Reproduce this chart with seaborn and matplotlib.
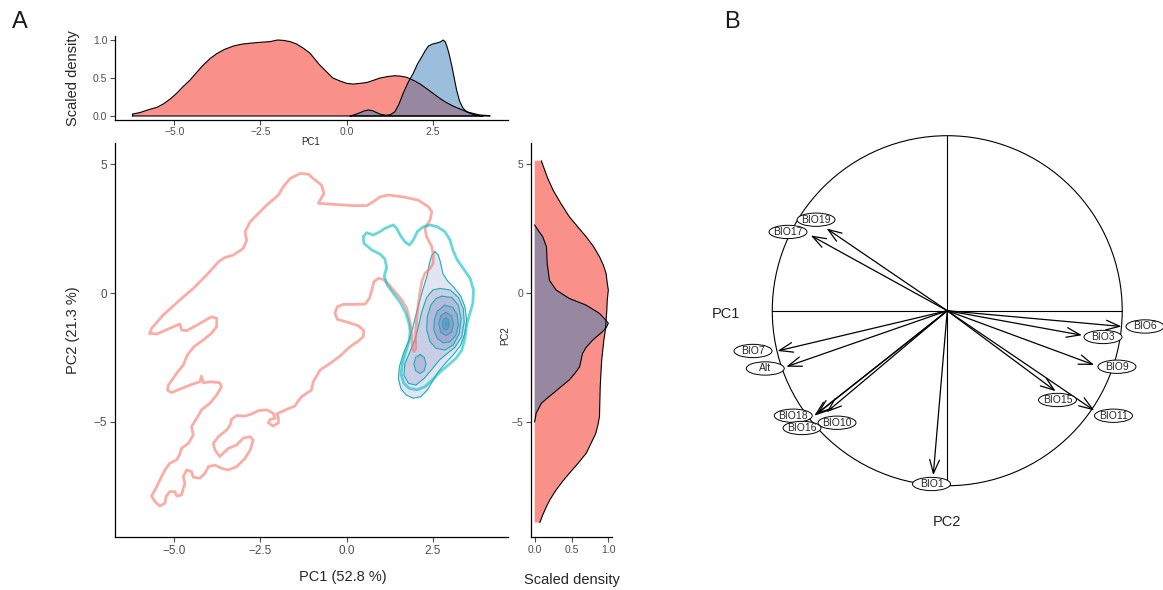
import matplotlib
matplotlib.use("Agg")
import matplotlib.pyplot as plt
import matplotlib.patches as mpatches
from matplotlib.colors import to_rgba
import seaborn as sns

# ---- top margin: scaled density along PC1
pc1_red_x = [-6.21, -6.0, -5.71, -5.5, -5.32, -5.1, -4.93, -4.75, -4.55, -4.35,
             -4.16, -3.95, -3.77, -3.55, -3.29, -3.05, -2.81, -2.5, -2.23, -2.0,
             -1.84, -1.65, -1.45, -1.25, -1.06, -0.8, -0.58, -0.4, -0.19, 0.0,
             0.19, 0.4, 0.58, 0.78, 0.97, 1.2, 1.40, 1.55, 1.74, 1.98,
             2.15, 2.32, 2.5, 2.71, 2.9, 3.09, 3.3, 3.48, 3.7, 3.87, 4.16]
pc1_red_d = [0.026, 0.045, 0.088, 0.115, 0.158, 0.23, 0.30, 0.385, 0.47, 0.575,
             0.67, 0.76, 0.82, 0.875, 0.92, 0.945, 0.957, 0.97, 0.978, 1.0,
             0.995, 0.98, 0.947, 0.89, 0.825, 0.68, 0.58, 0.50, 0.46, 0.43,
             0.42, 0.43, 0.44, 0.47, 0.50, 0.52, 0.53, 0.525, 0.51, 0.46,
             0.415, 0.36, 0.30, 0.23, 0.175, 0.13, 0.09, 0.057, 0.03, 0.013, 0.004]
pc1_blue_x = [0.1, 0.25, 0.39, 0.5, 0.63, 0.75, 0.87, 1.0, 1.16, 1.28,
              1.40, 1.52, 1.64, 1.78, 1.93, 2.05, 2.18, 2.28, 2.37, 2.48,
              2.61, 2.72, 2.80, 2.86, 2.92, 2.98, 3.05, 3.12, 3.19, 3.28,
              3.38, 3.5, 3.63, 3.8, 3.96]
pc1_blue_d = [0.0, 0.02, 0.044, 0.066, 0.079, 0.07, 0.044, 0.02, 0.009, 0.02,
              0.057, 0.16, 0.30, 0.44, 0.56, 0.68, 0.78, 0.86, 0.92, 0.945,
              0.96, 0.975, 1.0, 0.975, 0.90, 0.80, 0.66, 0.50, 0.34, 0.19,
              0.10, 0.05, 0.026, 0.008, 0.0]

# ---- right margin: scaled density along PC2
pc2_red_y = [5.13, 4.5, 3.99, 3.5, 2.96, 2.55, 2.18, 1.8, 1.41, 1.1,
             0.76, 0.4, 0.12, -0.3, -0.66, -1.05, -1.43, -1.82, -2.2, -2.6,
             -3.1, -3.63, -4.2, -4.79, -5.1, -5.44, -5.8, -6.21, -6.6, -6.99,
             -7.3, -7.64, -8.0, -8.28, -8.6, -8.9]
pc2_red_d = [0.09, 0.17, 0.25, 0.35, 0.47, 0.59, 0.70, 0.80, 0.88, 0.93,
             0.97, 0.985, 1.0, 0.985, 0.98, 0.97, 0.96, 0.94, 0.925, 0.91,
             0.90, 0.89, 0.885, 0.88, 0.86, 0.83, 0.77, 0.70, 0.59, 0.47,
             0.38, 0.29, 0.21, 0.16, 0.11, 0.07]
pc2_blue_y = [2.64, 2.44, 2.18, 1.79, 1.15, 0.5, 0.12, -0.21, -0.47, -0.79,
              -1.0, -1.17, -1.35, -1.5, -1.82, -2.1, -2.34, -2.6, -2.86, -3.1,
              -3.37, -3.65, -3.89, -4.1, -4.28, -4.66, -5.0]
pc2_blue_d = [0.0, 0.045, 0.11, 0.16, 0.17, 0.20, 0.29, 0.47, 0.70, 0.88,
              0.95, 1.0, 0.97, 0.92, 0.79, 0.70, 0.65, 0.63, 0.61, 0.55,
              0.47, 0.35, 0.25, 0.16, 0.09, 0.02, 0.0]

# ---- main panel: outer density contour of the red group
red_x = [-5.71, -5.66, -5.32, -4.84, -4.45, -4.06, -3.72, -3.53, -3.29, -3.00,
         -2.90, -2.95, -2.80, -2.61, -2.32, -1.98, -1.84, -1.64, -1.35, -1.11,
         -0.97, -0.73, -0.66, -0.82, -0.39, 0.19, 0.58, 0.77, 0.97, 1.21,
         1.64, 2.08, 2.37, 2.47, 2.42, 2.27, 2.32, 2.47, 2.51, 2.51,
         2.42, 2.27, 2.18, 2.13, 2.08, 2.03, 2.00, 2.01, 1.96, 1.91,
         1.89, 1.84, 1.74, 1.60, 1.40, 1.21, 1.06, 0.92, 0.79, 0.73,
         0.66, 0.53, 0.19, -0.10, -0.27, -0.34, -0.27, 0.05, 0.34, 0.50,
         0.48, 0.34, 0.10, -0.19, -0.48, -0.77, -0.97, -1.02, -1.31, -1.40,
         -1.50, -1.74, -2.03, -1.98, -1.98, -2.13, -2.27, -2.22, -2.08, -2.13,
         -2.32, -2.56, -2.76, -2.95, -3.19, -3.34, -3.38, -3.48, -3.72, -3.87,
         -3.82, -3.68, -3.58, -3.43, -3.19, -3.00, -2.80, -2.71, -2.80, -2.95,
         -3.19, -3.43, -3.63, -3.82, -4.01, -4.11, -4.26, -4.45, -4.50, -4.64,
         -4.74, -4.69, -4.74, -4.79, -4.93, -4.98, -5.13, -5.24, -5.27, -5.42,
         -5.56, -5.66, -5.51, -5.37, -5.27, -5.13, -4.93, -4.85, -4.79, -4.59,
         -4.45, -4.50, -4.35, -4.21, -3.97, -3.77, -3.63, -3.68, -3.92, -4.16,
         -4.21, -4.26, -4.55, -4.84, -5.08, -5.20, -5.17, -4.93, -4.74, -4.62,
         -4.43, -4.16, -3.92, -3.77, -3.77, -3.92, -4.26, -4.64, -4.79, -4.84,
         -5.13, -5.51]
red_y = [-1.56, -1.37, -0.85, -0.27, 0.18, 0.70, 1.21, 1.38, 1.47, 1.73,
         2.05, 2.38, 2.76, 3.02, 3.41, 3.80, 4.12, 4.44, 4.64, 4.61,
         4.44, 4.19, 3.86, 3.48, 3.44, 3.39, 3.39, 3.54, 3.73, 3.80,
         3.73, 3.60, 3.35, 3.15, 2.83, 2.51, 2.18, 1.80, 1.47, 1.15,
         0.96, 0.76, 0.44, 0.05, -0.40, -1.05, -1.69, -2.14, -2.27, -2.14,
         -1.69, -1.11, -0.59, -0.27, 0.05, 0.35, 0.53, 0.57, 0.44, 0.12,
         -0.21, -0.43, -0.44, -0.44, -0.53, -0.79, -1.02, -1.14, -1.27, -1.46,
         -1.69, -1.86, -2.08, -2.44, -2.73, -2.98, -3.44, -3.76, -4.02, -4.17,
         -4.38, -4.51, -4.69, -4.82, -5.03, -5.16, -5.03, -4.90, -4.86, -4.66,
         -4.53, -4.56, -4.69, -4.77, -4.75, -4.90, -5.12, -5.31, -5.57, -5.83,
         -6.09, -6.34, -6.21, -6.02, -5.89, -5.63, -5.57, -5.70, -6.09, -6.41,
         -6.73, -6.86, -6.80, -6.67, -6.73, -6.99, -7.18, -7.14, -6.93, -6.86,
         -7.12, -7.38, -7.57, -7.83, -7.87, -7.70, -7.70, -7.89, -8.15, -8.26,
         -8.09, -7.87, -7.51, -7.12, -6.86, -6.60, -6.47, -6.28, -6.02, -5.83,
         -5.50, -5.18, -4.86, -4.53, -4.28, -3.95, -3.63, -3.48, -3.44, -3.48,
         -3.22, -3.44, -3.57, -3.73, -3.86, -3.76, -3.57, -3.11, -2.79, -2.40,
         -2.08, -1.82, -1.56, -1.30, -0.98, -0.92, -1.18, -1.46, -1.43, -1.20,
         -1.37, -1.59]

# ---- main panel: outer density contour of the cyan group
cyan_x = [0.48, 0.58, 0.77, 0.97, 1.11, 1.35, 1.45, 1.55, 1.69, 1.82,
          1.93, 2.05, 2.22, 2.42, 2.63, 2.85, 3.00, 3.08, 3.21, 3.40,
          3.58, 3.68, 3.66, 3.56, 3.48, 3.43, 3.34, 3.17, 2.95, 2.72,
          2.50, 2.28, 2.05, 1.82, 1.66, 1.58, 1.62, 1.72, 1.82, 1.84,
          1.82, 1.72, 1.57, 1.37, 1.18, 1.09, 1.16, 1.11, 0.97, 0.73, 0.50]
cyan_y = [2.18, 2.34, 2.25, 2.38, 2.51, 2.64, 2.51, 2.25, 1.99, 1.86,
          2.05, 2.38, 2.57, 2.64, 2.57, 2.38, 2.05, 1.67, 1.28, 0.92,
          0.57, 0.12, -0.40, -0.85, -1.24, -1.76, -2.21, -2.53, -2.79, -3.05,
          -3.35, -3.62, -3.75, -3.70, -3.50, -3.15, -2.70, -2.25, -1.80, -1.50,
          -1.24, -0.79, -0.40, -0.04, 0.31, 0.66, 0.99, 1.32, 1.51, 1.67, 1.93]

# ---- main panel: filled density levels of the blue group (outer -> inner)
lvl1_x = [2.56, 2.66, 2.73, 2.79, 2.92, 3.11, 3.31, 3.43, 3.48, 3.43,
          3.31, 3.11, 2.88, 2.66, 2.50, 2.34, 2.15, 1.93, 1.72, 1.57,
          1.50, 1.53, 1.64, 1.79, 1.91, 2.01, 2.11, 2.22, 2.34, 2.40, 2.47]
lvl1_y = [1.60, 1.47, 1.15, 0.76, 0.48, 0.22, -0.12, -0.53, -1.05, -1.56,
          -2.02, -2.37, -2.70, -3.05, -3.40, -3.76, -4.02, -4.08, -3.95, -3.70,
          -3.31, -2.86, -2.36, -1.89, -1.37, -0.85, -0.34, 0.18, 0.70, 1.15, 1.47]
lvl2_x = [2.71, 3.00, 3.24, 3.38, 3.41, 3.34, 3.14, 2.90, 2.69, 2.47,
          2.25, 2.01, 1.79, 1.66, 1.69, 1.84, 1.98, 2.08, 2.18, 2.32, 2.50]
lvl2_y = [0.18, 0.12, -0.17, -0.59, -1.11, -1.69, -2.11, -2.36, -2.60, -2.96,
          -3.31, -3.57, -3.50, -3.18, -2.73, -2.27, -1.82, -1.30, -0.72, -0.17, 0.12]
lvl3_x = [2.76, 3.05, 3.24, 3.32, 3.27, 3.09, 2.85, 2.59, 2.42, 2.32, 2.34, 2.44, 2.59]
lvl3_y = [-0.12, -0.17, -0.47, -0.98, -1.56, -2.02, -2.21, -2.14, -1.89, -1.43, -0.92, -0.47, -0.21]
lobe_x = [2.13, 2.25, 2.30, 2.25, 2.13, 2.00, 1.95, 2.00]
lobe_y = [-2.39, -2.49, -2.75, -3.01, -3.12, -3.01, -2.75, -2.49]
lvl4_x = [2.85, 3.08, 3.21, 3.24, 3.17, 3.00, 2.80, 2.63, 2.53, 2.54, 2.63]
lvl4_y = [-0.47, -0.56, -0.85, -1.24, -1.63, -1.89, -1.93, -1.76, -1.43, -1.05, -0.70]
lvl5_x = [2.88, 3.04, 3.10, 3.04, 2.88, 2.73, 2.67, 2.73]
lvl5_y = [-0.75, -0.88, -1.20, -1.52, -1.65, -1.52, -1.20, -0.88]
lvl6_x = [2.88, 2.95, 2.98, 2.95, 2.88, 2.81, 2.78, 2.81]
lvl6_y = [-0.97, -1.03, -1.20, -1.37, -1.43, -1.37, -1.20, -1.03]
lvl7_x = [2.89, 2.91, 2.89, 2.87]
lvl7_y = [-1.12, -1.21, -1.30, -1.21]

# ---- panel B: correlation circle
var_names = ["BIO19", "BIO17", "BIO6", "BIO3", "BIO9", "BIO15", "BIO11",
             "BIO7", "Alt", "BIO18", "BIO16", "BIO10", "BIO1"]
var_pc1 = [-0.69, -0.78, 0.996, 0.77, 0.84, 0.62, 0.84, -0.97, -0.92, -0.76, -0.745, -0.69, -0.08]
var_pc2 = [0.47, 0.43, -0.09, -0.14, -0.31, -0.46, -0.57, -0.23, -0.32, -0.60, -0.59, -0.58, -0.94]
label_pc1 = [-0.75, -0.91, 1.13, 0.89, 0.97, 0.63, 0.95, -1.11, -1.04, -0.88, -0.83, -0.63, -0.09]
label_pc2 = [0.52, 0.45, -0.09, -0.15, -0.32, -0.51, -0.60, -0.23, -0.33, -0.60, -0.67, -0.64, -0.99]

pc1_ticks = [-5, -2.5, 0, 2.5]
pc1_ticklabels = ["\u22125.0", "\u22122.5", "0.0", "2.5"]
pc2_ticks = [-5, 0, 5]
pc2_ticklabels = ["\u22125", "0", "5"]
dens_ticks = [0, 0.5, 1]
dens_ticklabels = ["0.0", "0.5", "1.0"]

sns.set_theme(style="ticks")
plt.rcParams["font.family"] = ["Liberation Sans", "DejaVu Sans"]

RED = "#F8766D"
BLUE = "#377EB8"
CYAN = "#00BFC4"
TEAL = "#19AEB6"
SHADE = "#3F4FA8"
GRAY = "#4D4D4D"

W, H = 1163, 590
fig = plt.figure(figsize=(W / 100, H / 100), dpi=100)


def add_ax(left, top, right, bottom):
    return fig.add_axes([left / W, 1 - bottom / H, (right - left) / W, (bottom - top) / H])


def style(ax, size):
    sns.despine(ax=ax)
    for s in ["left", "bottom"]:
        ax.spines[s].set_color("black")
        ax.spines[s].set_linewidth(0.9)
    ax.tick_params(direction="out", length=3.5, width=0.8, color=GRAY,
                   labelcolor=GRAY, labelsize=size, pad=2)
    ax.set_xlabel("")
    ax.set_ylabel("")


def closed_line(ax, xs, ys, **kw):
    sns.lineplot(x=list(xs) + [xs[0]], y=list(ys) + [ys[0]], sort=False,
                 estimator=None, ax=ax, legend=False,
                 solid_joinstyle="round", solid_capstyle="round", **kw)


def ftext(x, y, s, **kw):
    fig.text(x / W, 1 - y / H, s, ha="center", va="center", **kw)


# top marginal
axT = add_ax(115, 36.2, 508, 119.8)
for gx, gd, col, a in [(pc1_red_x, pc1_red_d, RED, 0.8), (pc1_blue_x, pc1_blue_d, BLUE, 0.5)]:
    px = [gx[0]] + gx + [gx[-1]]
    pd_ = [0] + gd + [0]
    axT.fill(px, pd_, fc=to_rgba(col, a), lw=0)
    closed_line(axT, px, pd_, color="black", lw=0.8)
axT.set_xlim(-6.72, 4.68)
axT.set_ylim(-0.05, 1.05)
axT.set_xticks(pc1_ticks, pc1_ticklabels)
axT.set_yticks(dens_ticks, dens_ticklabels)
style(axT, 7.5)

# main panel
axM = add_ax(115, 142.7, 508, 537)
levels = [(lvl1_x, lvl1_y), (lvl2_x, lvl2_y), (lvl3_x, lvl3_y), (lobe_x, lobe_y),
          (lvl4_x, lvl4_y), (lvl5_x, lvl5_y), (lvl6_x, lvl6_y), (lvl7_x, lvl7_y)]
for lx, ly in levels:
    axM.fill(lx, ly, fc=to_rgba(SHADE, 0.15), lw=0)
    closed_line(axM, lx, ly, color=TEAL, lw=0.8)
closed_line(axM, red_x, red_y, color=RED, alpha=0.6, lw=2.0)
closed_line(axM, cyan_x, cyan_y, color=CYAN, alpha=0.6, lw=2.0)
axM.set_xlim(-6.72, 4.68)
axM.set_ylim(-9.46, 5.83)
axM.set_xticks(pc1_ticks, pc1_ticklabels)
axM.set_yticks(pc2_ticks, pc2_ticklabels)
style(axM, 8.5)

# right marginal
axR = add_ax(531, 142.7, 612, 537)
for gy, gd, col, a in [(pc2_red_y, pc2_red_d, RED, 0.8), (pc2_blue_y, pc2_blue_d, BLUE, 0.5)]:
    axR.fill([0] + gd + [0], [gy[0]] + gy + [gy[-1]], fc=to_rgba(col, a), lw=0)
    sns.lineplot(x=gd, y=gy, sort=False, estimator=None, ax=axR, color="black",
                 lw=0.8, legend=False, solid_joinstyle="round")
axR.set_xlim(-0.05, 1.05)
axR.set_ylim(-9.46, 5.83)
axR.set_xticks(dens_ticks, dens_ticklabels)
axR.set_yticks(pc2_ticks, pc2_ticklabels)
style(axR, 7.5)

# axis titles of panel A
ftext(73, 78, "Scaled density", fontsize=10.5, rotation=90)
ftext(311, 142, "PC1", fontsize=7)
ftext(73, 330, "PC2 (21.3 %)", fontsize=10.5, rotation=90)
ftext(343, 577, "PC1 (52.8 %)", fontsize=10.5)
ftext(505, 336, "PC2", fontsize=7, rotation=90)
ftext(572, 580, "Scaled density", fontsize=10.5)
ftext(20, 22, "A", fontsize=17, color="#1a1a1a")
ftext(732, 22, "B", fontsize=17, color="#1a1a1a")

# panel B
axB = add_ax(700, 100, 1163, 540)
axB.set_xlim(-1.413, 1.233)
axB.set_ylim(-1.310, 1.204)
axB.axis("off")
axB.add_patch(mpatches.Circle((0, 0), 1, fill=False, lw=0.8, ec="black"))
axB.plot([-1, 1], [0, 0], color="black", lw=0.8)
axB.plot([0, 0], [-1, 1], color="black", lw=0.8)
for name, x, y, lx, ly in zip(var_names, var_pc1, var_pc2, label_pc1, label_pc2):
    axB.annotate("", xy=(x, y), xytext=(0, 0),
                 arrowprops=dict(arrowstyle="->,head_length=0.7,head_width=0.25",
                                 lw=0.9, color="black", shrinkA=0, shrinkB=0,
                                 mutation_scale=14))
    axB.add_patch(mpatches.Ellipse((lx, ly), 0.217, 0.076, fc="white", ec="black",
                                   lw=0.7, zorder=4))
    axB.text(lx, ly, name, ha="center", va="center", fontsize=7.5, zorder=5)
axB.text(-1.265, -0.02, "PC1", ha="center", va="center", fontsize=10.5, color="#222222")
axB.text(0, -1.205, "PC2", ha="center", va="center", fontsize=10.5, color="#222222")

fig.savefig("out.png", dpi=100, facecolor="white")
